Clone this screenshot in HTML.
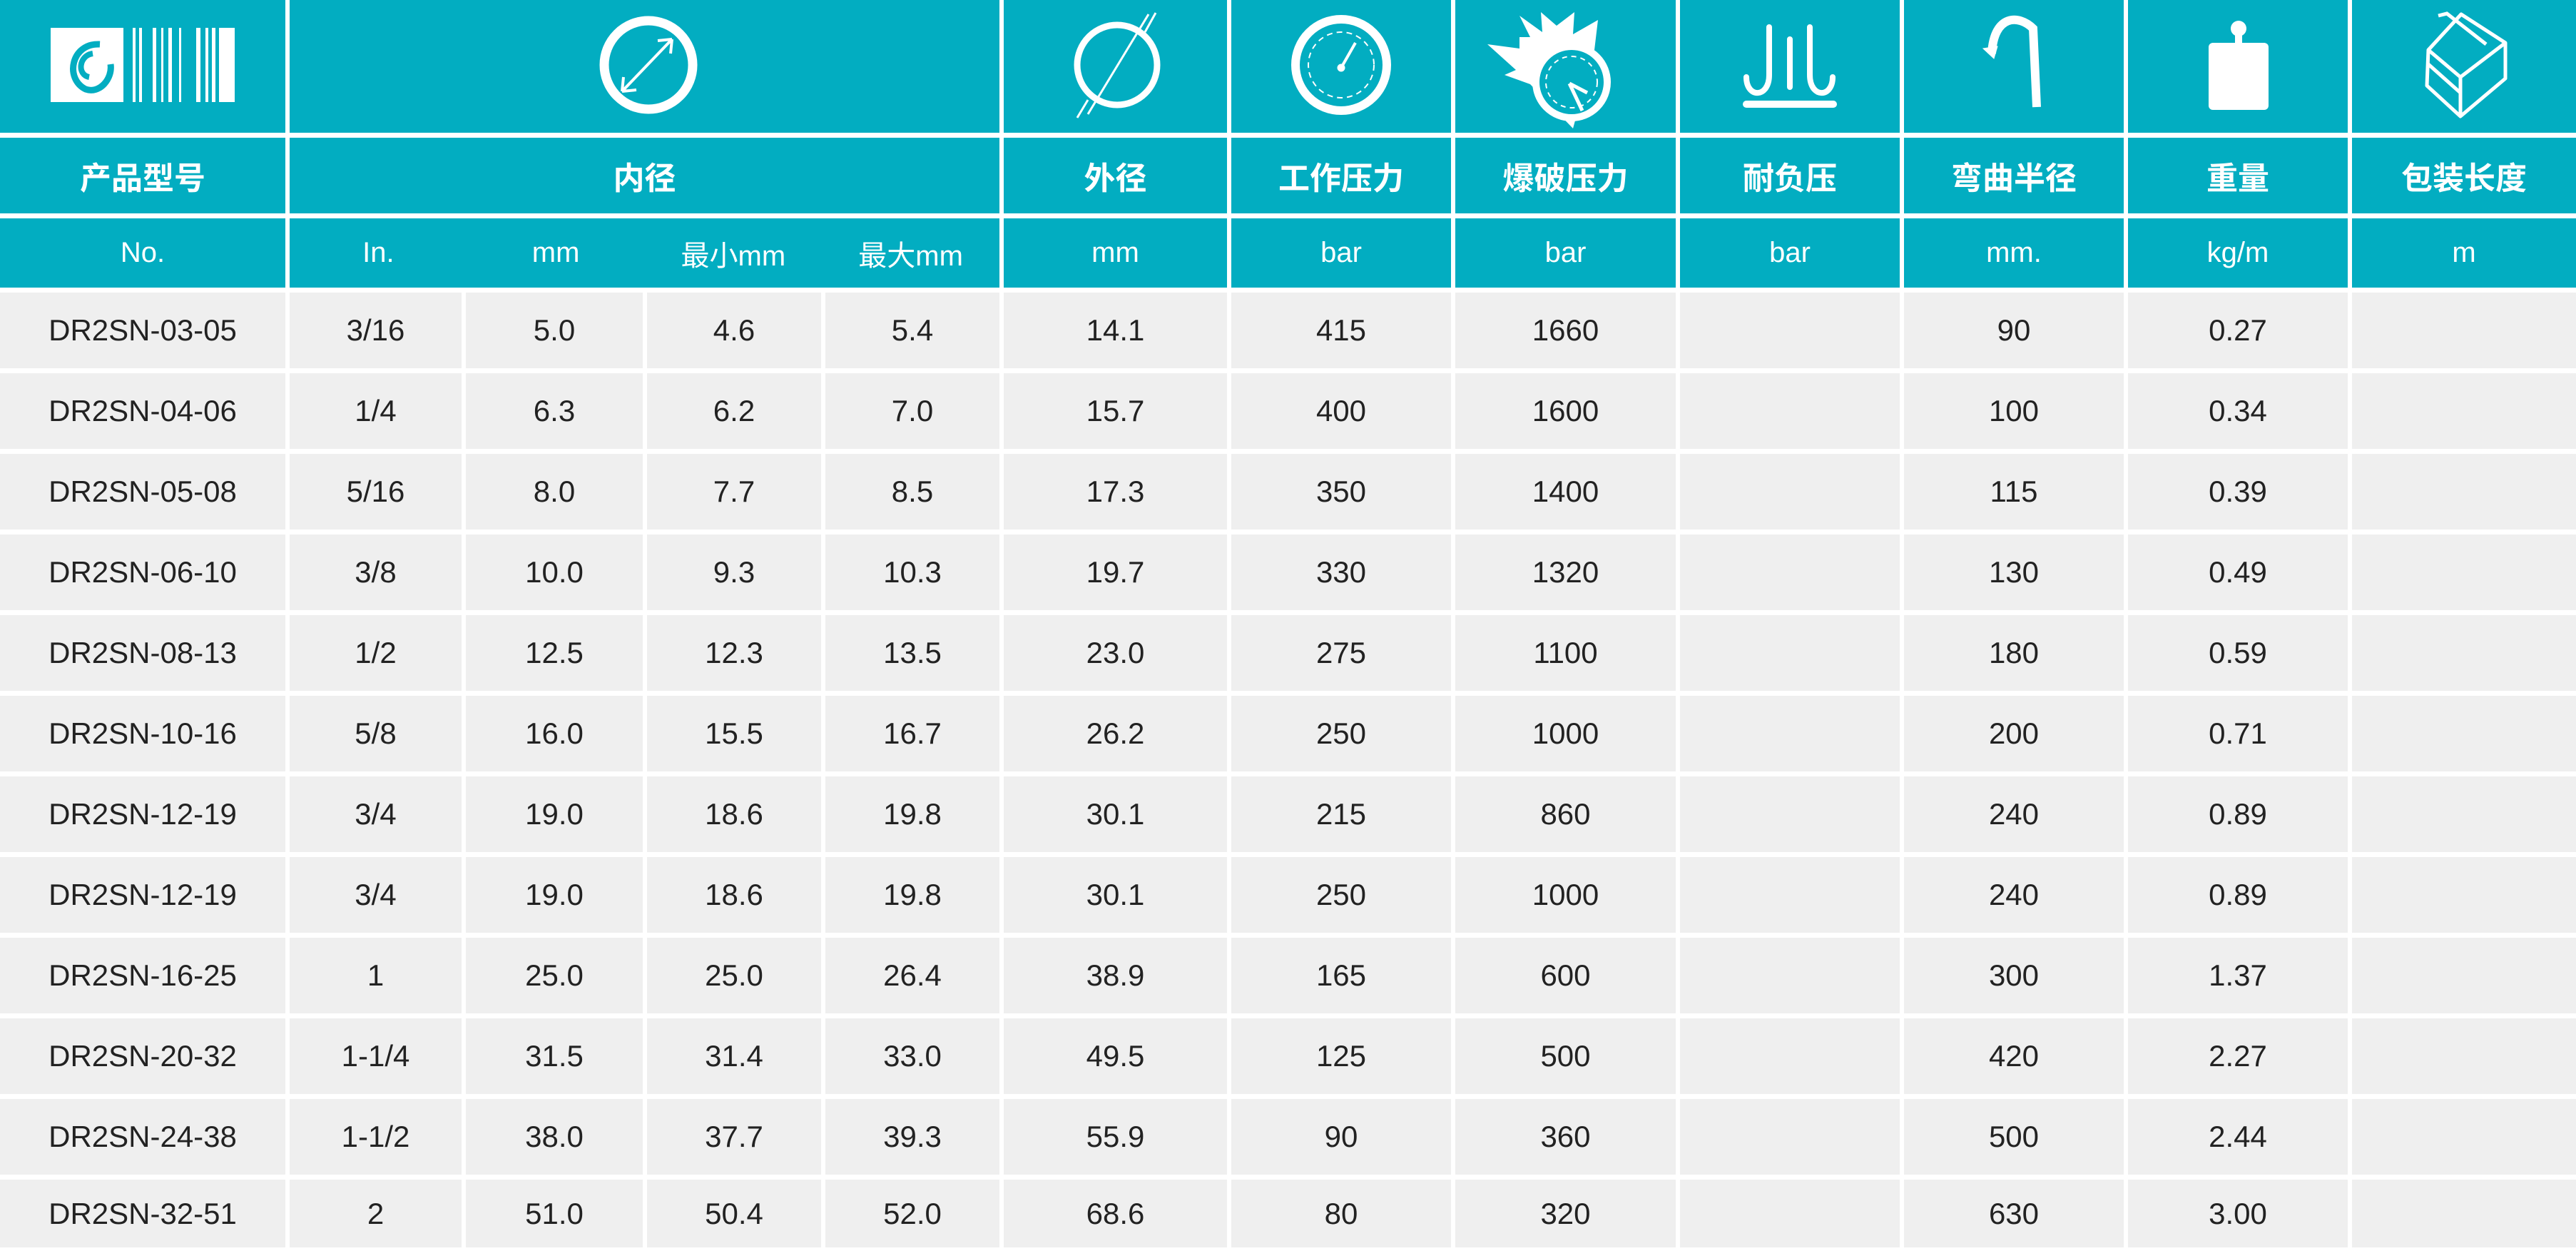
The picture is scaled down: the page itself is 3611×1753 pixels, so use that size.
<!DOCTYPE html>
<html><head><meta charset="utf-8"><style>
*{margin:0;padding:0;box-sizing:border-box}
body{width:3611px;height:1753px;background:#fff;position:relative;overflow:hidden;font-family:"Liberation Sans","Noto Sans CJK SC",sans-serif}
.g{position:absolute;left:0;top:0;display:grid;grid-template-columns:400px 241px 248px 244px 244px 313px 308px 309px 308px 308px 308px 314px;column-gap:6px;row-gap:7px;grid-template-rows:186px 106px 97px repeat(11,106px) 95px}
.g>div{display:flex;align-items:center;justify-content:center}
.t{background:#02adc1;color:#fff}
.h{font-weight:bold;font-size:44px}
.s{font-size:40px}
.d{background:#efefef;color:#222;font-size:42px}
.sp4{grid-column:span 4}
.sub{justify-content:space-around!important}
.sub span{width:25%;text-align:center}
svg{position:absolute;left:0;top:0}
</style></head><body>
<div class="g">
<div class="t"></div><div class="t sp4"></div><div class="t"></div><div class="t"></div><div class="t"></div><div class="t"></div><div class="t"></div><div class="t"></div><div class="t"></div>
<div class="t h">产品型号</div><div class="t h sp4">内径</div><div class="t h">外径</div><div class="t h">工作压力</div><div class="t h">爆破压力</div><div class="t h">耐负压</div><div class="t h">弯曲半径</div><div class="t h">重量</div><div class="t h">包装长度</div>
<div class="t s">No.</div><div class="t s sp4 sub"><span>In.</span><span>mm</span><span>最小mm</span><span>最大mm</span></div><div class="t s">mm</div><div class="t s">bar</div><div class="t s">bar</div><div class="t s">bar</div><div class="t s">mm.</div><div class="t s">kg/m</div><div class="t s">m</div>
<div class="d">DR2SN-03-05</div><div class="d">3/16</div><div class="d">5.0</div><div class="d">4.6</div><div class="d">5.4</div><div class="d">14.1</div><div class="d">415</div><div class="d">1660</div><div class="d"></div><div class="d">90</div><div class="d">0.27</div><div class="d"></div>
<div class="d">DR2SN-04-06</div><div class="d">1/4</div><div class="d">6.3</div><div class="d">6.2</div><div class="d">7.0</div><div class="d">15.7</div><div class="d">400</div><div class="d">1600</div><div class="d"></div><div class="d">100</div><div class="d">0.34</div><div class="d"></div>
<div class="d">DR2SN-05-08</div><div class="d">5/16</div><div class="d">8.0</div><div class="d">7.7</div><div class="d">8.5</div><div class="d">17.3</div><div class="d">350</div><div class="d">1400</div><div class="d"></div><div class="d">115</div><div class="d">0.39</div><div class="d"></div>
<div class="d">DR2SN-06-10</div><div class="d">3/8</div><div class="d">10.0</div><div class="d">9.3</div><div class="d">10.3</div><div class="d">19.7</div><div class="d">330</div><div class="d">1320</div><div class="d"></div><div class="d">130</div><div class="d">0.49</div><div class="d"></div>
<div class="d">DR2SN-08-13</div><div class="d">1/2</div><div class="d">12.5</div><div class="d">12.3</div><div class="d">13.5</div><div class="d">23.0</div><div class="d">275</div><div class="d">1100</div><div class="d"></div><div class="d">180</div><div class="d">0.59</div><div class="d"></div>
<div class="d">DR2SN-10-16</div><div class="d">5/8</div><div class="d">16.0</div><div class="d">15.5</div><div class="d">16.7</div><div class="d">26.2</div><div class="d">250</div><div class="d">1000</div><div class="d"></div><div class="d">200</div><div class="d">0.71</div><div class="d"></div>
<div class="d">DR2SN-12-19</div><div class="d">3/4</div><div class="d">19.0</div><div class="d">18.6</div><div class="d">19.8</div><div class="d">30.1</div><div class="d">215</div><div class="d">860</div><div class="d"></div><div class="d">240</div><div class="d">0.89</div><div class="d"></div>
<div class="d">DR2SN-12-19</div><div class="d">3/4</div><div class="d">19.0</div><div class="d">18.6</div><div class="d">19.8</div><div class="d">30.1</div><div class="d">250</div><div class="d">1000</div><div class="d"></div><div class="d">240</div><div class="d">0.89</div><div class="d"></div>
<div class="d">DR2SN-16-25</div><div class="d">1</div><div class="d">25.0</div><div class="d">25.0</div><div class="d">26.4</div><div class="d">38.9</div><div class="d">165</div><div class="d">600</div><div class="d"></div><div class="d">300</div><div class="d">1.37</div><div class="d"></div>
<div class="d">DR2SN-20-32</div><div class="d">1-1/4</div><div class="d">31.5</div><div class="d">31.4</div><div class="d">33.0</div><div class="d">49.5</div><div class="d">125</div><div class="d">500</div><div class="d"></div><div class="d">420</div><div class="d">2.27</div><div class="d"></div>
<div class="d">DR2SN-24-38</div><div class="d">1-1/2</div><div class="d">38.0</div><div class="d">37.7</div><div class="d">39.3</div><div class="d">55.9</div><div class="d">90</div><div class="d">360</div><div class="d"></div><div class="d">500</div><div class="d">2.44</div><div class="d"></div>
<div class="d">DR2SN-32-51</div><div class="d">2</div><div class="d">51.0</div><div class="d">50.4</div><div class="d">52.0</div><div class="d">68.6</div><div class="d">80</div><div class="d">320</div><div class="d"></div><div class="d">630</div><div class="d">3.00</div><div class="d"></div>
</div>
<svg width="3611" height="186" viewBox="0 0 3611 186" fill="none" stroke="#fff">
<rect x="71" y="39" width="102" height="104" fill="#fff" stroke="none"/>
<path d="M140 62 C100 60 90 110 120 125 C140 132 158 110 155 90" stroke="#02adc1" stroke-width="9"/>
<path d="M130 75 C110 78 108 105 125 108" stroke="#02adc1" stroke-width="8"/>
<g fill="#fff" stroke="none">
<rect x="186" y="39" width="4" height="104"/><rect x="195" y="39" width="4" height="104"/><rect x="214" y="39" width="5" height="104"/><rect x="226" y="39" width="3" height="104"/><rect x="236" y="39" width="5" height="104"/><rect x="251" y="39" width="3" height="104"/><rect x="275" y="39" width="6" height="104"/><rect x="288" y="39" width="4" height="104"/><rect x="297" y="39" width="5" height="104"/><rect x="307" y="39" width="22" height="104"/>
</g>
<circle cx="909" cy="91" r="62" stroke-width="13"/>
<path d="M872 128 L942 55 M942 55 L922 57 M942 55 L940 75 M872 128 L874 108 M872 128 L892 126" stroke-width="4"/>
<circle cx="1566" cy="91" r="56" stroke-width="9"/>
<path d="M1525 160 L1610 20 M1510 165 L1525 140 M1620 18 L1605 45" stroke-width="3"/>
<circle cx="1880" cy="91" r="64" stroke-width="12"/>
<circle cx="1880" cy="91" r="46" stroke-width="2" stroke-dasharray="8 6"/>
<path d="M1880 95 L1900 60" stroke-width="4"/><circle cx="1880" cy="95" r="5" fill="#fff"/>
<path d="M2085 62 L2130 68 L2130 52 L2145 52 L2130 22 L2162 45 L2160 17 L2182 36 L2207 17 L2205 48 L2240 28 L2235 70 L2205 180 L2145 118 L2109 105 L2125 98 Z" fill="#fff" stroke="none"/>
<circle cx="2203" cy="115" r="50" fill="#02adc1" stroke-width="10"/>
<circle cx="2203" cy="115" r="36" stroke-width="2" stroke-dasharray="7 6"/>
<path d="M2200 117 L2225 130 M2200 117 L2218 155" stroke-width="5"/>
<path d="M2480 38 L2480 105 C2480 138 2448 138 2448 108 M2509 55 L2509 122 M2537 38 L2537 105 C2537 138 2569 138 2569 108" stroke-width="8" stroke-linecap="round"/>
<path d="M2448 146 L2570 146" stroke-width="10" stroke-linecap="round"/>
<path d="M2792 75 C2795 20 2830 20 2850 40 L2855 150" stroke-width="12"/>
<path d="M2780 68 L2795 82 L2800 65 Z" fill="#fff"/>
<circle cx="3138" cy="40" r="11" fill="#fff" stroke="none"/>
<rect x="3133" y="45" width="10" height="20" fill="#fff" stroke="none"/>
<rect x="3096" y="60" width="84" height="94" rx="6" fill="#fff" stroke="none"/>
<path d="M3404 70 L3450 20 L3512 60 L3512 110 L3449 163 L3402 120 Z M3404 70 L3449 108 L3512 60 M3449 108 L3449 163 M3404 90 L3449 130" stroke-width="5" stroke-linejoin="round"/>
<path d="M3418 22 L3430 19 L3485 62" stroke-width="5"/>
</svg>
</body></html>
